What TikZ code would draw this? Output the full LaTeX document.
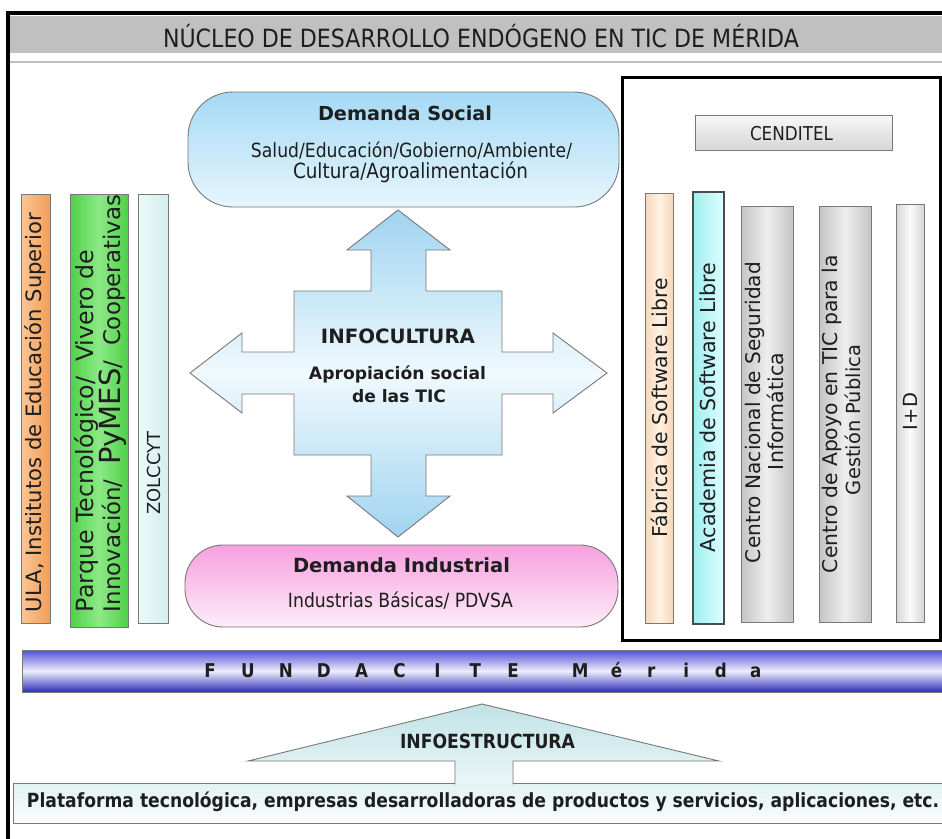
\documentclass[tikz,border=0pt]{standalone}
\usepackage{fontspec}
\usepackage{graphicx}
\setmainfont{DejaVu Sans}
\newfontfamily\cond{DejaVu Sans}[FakeStretch=0.88]
\newcommand\fitto[2]{\resizebox{#1}{!}{#2}}
\newcommand\fundl[2]{\makebox[#1]{#2}}
\definecolor{ttl}{RGB}{192,192,192}
\definecolor{edge}{RGB}{120,120,120}
\definecolor{txt}{RGB}{30,30,30}
\definecolor{dsTop}{RGB}{165,217,245}
\definecolor{dsBot}{RGB}{230,246,253}
\definecolor{crossBlue}{RGB}{160,212,240}
\definecolor{crossMid}{RGB}{240,249,254}
\definecolor{diTop}{RGB}{247,160,224}
\definecolor{diBot}{RGB}{253,236,248}
\definecolor{fundTop}{RGB}{80,80,215}
\definecolor{fundBot}{RGB}{45,45,185}
\definecolor{fundMid}{RGB}{238,238,252}
\definecolor{ulaA}{RGB}{250,198,148}
\definecolor{ulaB}{RGB}{243,158,88}
\definecolor{parA}{RGB}{78,208,72}
\definecolor{parB}{RGB}{140,234,134}
\definecolor{zolA}{RGB}{236,250,250}
\definecolor{zolB}{RGB}{212,238,238}
\definecolor{fabA}{RGB}{255,242,228}
\definecolor{fabB}{RGB}{248,214,182}
\definecolor{acaA}{RGB}{160,238,240}
\definecolor{acaB}{RGB}{222,255,255}
\definecolor{gryA}{RGB}{196,196,196}
\definecolor{gryB}{RGB}{238,238,238}
\definecolor{idA}{RGB}{214,214,214}
\definecolor{idB}{RGB}{250,250,250}
\definecolor{triTop}{RGB}{192,227,231}
\definecolor{triBot}{RGB}{234,246,247}
\definecolor{platTop}{RGB}{226,242,243}
\definecolor{platBot}{RGB}{250,253,253}
\begin{document}
\begin{tikzpicture}[x=1pt,y=-1pt,
  every node/.style={inner sep=0pt,outer sep=0pt,text=txt},
  thinedge/.style={draw=edge,line width=0.9pt},
  vtext/.style={rotate=90,font=\fontsize{20.5}{21}\selectfont},
  boldtext/.style={anchor=base,font=\bfseries\fontsize{19.3}{22}\selectfont},
  condtext/.style={anchor=base,font=\cond\fontsize{18.5}{21}\selectfont},
  condbold/.style={anchor=base,font=\cond\bfseries\fontsize{18}{21}\selectfont}]
\useasboundingbox (0,0) rectangle (942,838);
\fill[white] (0,0) rectangle (942,838);
% title bar and frame
\fill[ttl] (10,16) rectangle (944,53);
\draw[gray!50,line width=1.4pt] (10,62) -- (944,62);
\draw[black,line width=3.5pt] (8,840) -- (8,13) -- (944,13);
\node[anchor=base,font=\cond\fontsize{27}{30}\selectfont] (title) at (481,47)
  {\fitto{636pt}{NÚCLEO DE DESARROLLO ENDÓGENO EN TIC DE MÉRIDA}};
% right box
\draw[black,line width=3pt] (622,77) rectangle (940,640);
\path[thinedge,top color=gray!6,bottom color=gray!32] (695,115) rectangle (892,150);
\node[condtext] (cenditel) at (791.5,140) {\fitto{83pt}{CENDITEL}};
% demanda social
\path[thinedge,top color=dsTop,bottom color=dsBot,rounded corners=45pt] (188,92) rectangle (619,207);
\node[boldtext] (dst) at (405,120) {\fitto{174pt}{Demanda Social}};
\node[condtext] (dsa) at (411.5,157) {\fitto{321pt}{Salud/Educación/Gobierno/Ambiente/}};
\node[condtext] (dsb) at (410.5,178) {\fitto{235pt}{Cultura/Agroalimentación}};
% cross arrow
\path[thinedge,top color=crossBlue,bottom color=crossBlue,middle color=crossMid]
  (398,210) -- (450,250) -- (426,250) -- (426,291) -- (502,291) -- (502,352) -- (553,352) -- (553,333)
  -- (607,373) -- (553,413) -- (553,394) -- (502,394) -- (502,455) -- (426,455) -- (426,496)
  -- (450,496) -- (398,537) -- (347,496) -- (371,496) -- (371,455) -- (294,455) -- (294,394)
  -- (242,394) -- (242,413) -- (190,373) -- (242,333) -- (242,352) -- (294,352) -- (294,291)
  -- (371,291) -- (371,250) -- (347,250) -- cycle;
\node[boldtext] (infoc) at (398,343) {\fitto{154pt}{INFOCULTURA}};
\node[boldtext] (apro) at (397.5,379) {\fitto{177pt}{Apropiación social}};
\node[boldtext] (delas) at (399,402) {\fitto{94pt}{de las TIC}};
% demanda industrial
\path[thinedge,top color=diTop,bottom color=diBot,rounded corners=38pt] (185,545) rectangle (618,627);
\node[boldtext] (dit) at (401.5,572) {\fitto{217pt}{Demanda Industrial}};
\node[condtext] (dis) at (400.5,607) {\fitto{225pt}{Industrias Básicas/ PDVSA}};
% left columns
\path[thinedge,left color=ulaA,right color=ulaB] (21,194) rectangle (50,623);
\path[thinedge,left color=parA,right color=parA,middle color=parB] (70,194) rectangle (128,627);
\path[thinedge,left color=zolA,right color=zolB] (138,194) rectangle (168,623);
\node[vtext] (ula) at (35.5,412.5) {\fitto{399pt}{ULA, Institutos de Educación Superior}};
\node[vtext,anchor=west] (par1) at (86,612) {\fitto{362pt}{Parque Tecnológico/\ \ Vivero de}};
\node[vtext,anchor=west] (par2) at (113,612) {\fitto{417pt}{Innovación/\ \ {\fontsize{26}{26}\selectfont PyMES}/\ \ Cooperativas}};
\node[vtext] (zol) at (154,473) {\fitto{83pt}{ZOLCCYT}};
% right columns
\path[thinedge,left color=fabB,right color=fabB,middle color=fabA] (645,193) rectangle (673,623);
\path[draw=black!70,line width=1.1pt,left color=acaA,right color=acaB] (693,192) rectangle (724,624);
\path[thinedge,left color=gryA,right color=gryA,middle color=gryB] (741,206) rectangle (793,622);
\path[thinedge,left color=gryA,right color=gryA,middle color=gryB] (819,206) rectangle (871,622);
\path[thinedge,left color=idA,right color=idA,middle color=idB] (896,204) rectangle (924,622);
\node[vtext] (fab) at (659,407.5) {\fitto{259pt}{Fábrica de Software Libre}};
\node[vtext] (aca) at (708,407.5) {\fitto{289pt}{Academia de Software Libre}};
\node[vtext] (cn1) at (755,412.5) {\fitto{301pt}{Centro Nacional de Seguridad}};
\node[vtext] (cn2) at (775,411.5) {\fitto{117pt}{Informática}};
\node[vtext] (ca1) at (832,414) {\fitto{318pt}{Centro de Apoyo en TIC para la}};
\node[vtext] (ca2) at (853,420) {\fitto{150pt}{Gestión Pública}};
\node[vtext] (id) at (910,411.5) {\fitto{37pt}{I+D}};
% fundacite bar
\path[draw=edge,line width=0.8pt,top color=fundTop,bottom color=fundBot,middle color=fundMid] (22,650) rectangle (945,692);
\node[anchor=base west,font=\cond\bfseries\fontsize{19}{21}\selectfont] (fund) at (191.05,677)
  {\fundl{37.9pt}{F}\fundl{37.9pt}{U}\fundl{37.9pt}{N}\fundl{37.9pt}{D}\fundl{37.9pt}{A}\fundl{37.9pt}{C}\fundl{37.9pt}{I}\fundl{37.9pt}{T}\fundl{37.9pt}{E}\hspace{29.1pt}\fundl{37.9pt}{M}\fundl{34.8pt}{é}\fundl{34.8pt}{r}\fundl{34.8pt}{i}\fundl{34.8pt}{d}\fundl{34.8pt}{a}};
% infoestructura
\path[thinedge,top color=platTop,bottom color=platBot] (13,783) rectangle (945,823);
\path[draw=edge,line width=0.9pt,top color=triTop,bottom color=triBot]
  (455,784.5) -- (455,761) -- (248,761) -- (482,704) -- (719,761) -- (513,761) -- (513,784.5);
\node[condbold] (infoe) at (487.5,748) {\fitto{175pt}{INFOESTRUCTURA}};
\node[condbold] (plat) at (483,807) {\fitto{912pt}{Plataforma tecnológica, empresas desarrolladoras de productos y servicios, aplicaciones, etc.}};
\end{tikzpicture}
\end{document}
